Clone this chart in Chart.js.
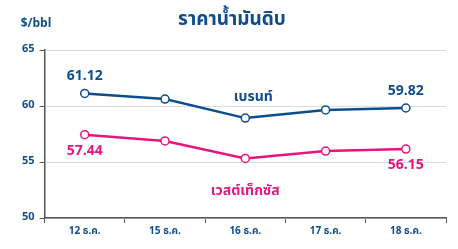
<!DOCTYPE html>
<html><head><meta charset="utf-8">
<script src="https://cdn.jsdelivr.net/npm/chart.js@4"></script>
<style>html,body{margin:0;padding:0;background:#fff;}#wrap{width:458px;height:249px;}</style>
</head><body><div id="wrap"><canvas id="c"></canvas></div>
<script>
const categories = ["12 ธ.ค.", "15 ธ.ค.", "16 ธ.ค.", "17 ธ.ค.", "18 ธ.ค."];
const brent = [61.12, 60.62, 58.92, 59.65, 59.82];
const wti = [57.44, 56.88, 55.32, 55.98, 56.15];
const yTicks = [50, 55, 60, 65];
const title = "ราคาน้ำมันดิบ";
const unit = "$/bbl";
const brentName = "เบรนท์";
const wtiName = "เวสต์เท็กซัส";

const BLUE = "#0e4d8c";
const PINK = "#e4167f";
const FONT = "'Noto Sans Thai','Noto Sans','Open Sans',sans-serif";

const labelPlugin = {
  id: 'labels',
  afterDatasetsDraw(chart) {
    const ctx = chart.ctx;
    const x = chart.scales.x, y = chart.scales.y;
    ctx.save();
    ctx.textAlign = 'center';
    ctx.textBaseline = 'middle';
    ctx.fillStyle = BLUE;
    ctx.font = "bold 19px " + FONT;
    ctx.fillText(title, 232, 21);
    ctx.font = "bold 12px " + FONT;
    ctx.fillText(unit, 36, 25);
    ctx.font = "bold 14px " + FONT;
    ctx.fillStyle = BLUE;
    ctx.fillText(brent[0].toFixed(2), x.getPixelForValue(0), y.getPixelForValue(brent[0]) - 16);
    ctx.fillText(brent[4].toFixed(2), x.getPixelForValue(4), y.getPixelForValue(brent[4]) - 16);
    ctx.fillStyle = PINK;
    ctx.fillText(wti[0].toFixed(2), x.getPixelForValue(0), y.getPixelForValue(wti[0]) + 17);
    ctx.fillText(wti[4].toFixed(2), x.getPixelForValue(4), y.getPixelForValue(wti[4]) + 17);
    ctx.font = "bold 14px " + FONT;
    ctx.fillStyle = BLUE;
    ctx.fillText(brentName, x.getPixelForValue(2) + 8, y.getPixelForValue(brent[2]) - 20);
    ctx.fillStyle = PINK;
    ctx.fillText(wtiName, x.getPixelForValue(2), y.getPixelForValue(wti[2]) + 34);
    ctx.restore();
  }
};

new Chart(document.getElementById('c'), {
  type: 'line',
  data: {
    labels: categories,
    datasets: [
      { data: brent, borderColor: BLUE, backgroundColor: '#fff', borderWidth: 2.5,
        pointRadius: 4, pointBorderWidth: 1.5, pointBackgroundColor: '#fff', pointBorderColor: BLUE, tension: 0 },
      { data: wti, borderColor: PINK, backgroundColor: '#fff', borderWidth: 2.5,
        pointRadius: 4, pointBorderWidth: 1.5, pointBackgroundColor: '#fff', pointBorderColor: PINK, tension: 0 }
    ]
  },
  options: {
    responsive: true, maintainAspectRatio: false, animation: false,
    layout: { padding: { top: 50, right: 12, left: 17, bottom: 8 } },
    plugins: { legend: { display: false }, tooltip: { enabled: false } },
    scales: {
      x: {
        offset: true,
        grid: { display: true, drawOnChartArea: false, offset: true, tickLength: 5, tickColor: '#555', color: '#555' },
        border: { color: '#555', width: 1.5 },
        ticks: { color: BLUE, font: { family: FONT, size: 10, weight: 'bold' }, padding: 3, maxRotation: 0 }
      },
      y: {
        min: 50, max: 65,
        afterBuildTicks(s) { s.ticks = yTicks.map(v => ({ value: v })); },
        grid: { color: '#dcdcdc', tickColor: '#555', tickLength: 5, lineWidth: 1 },
        border: { color: '#555', width: 1.5 },
        ticks: { color: BLUE, font: { family: FONT, size: 11, weight: 'bold' }, padding: 5 }
      }
    }
  },
  plugins: [labelPlugin]
});
</script></body></html>
